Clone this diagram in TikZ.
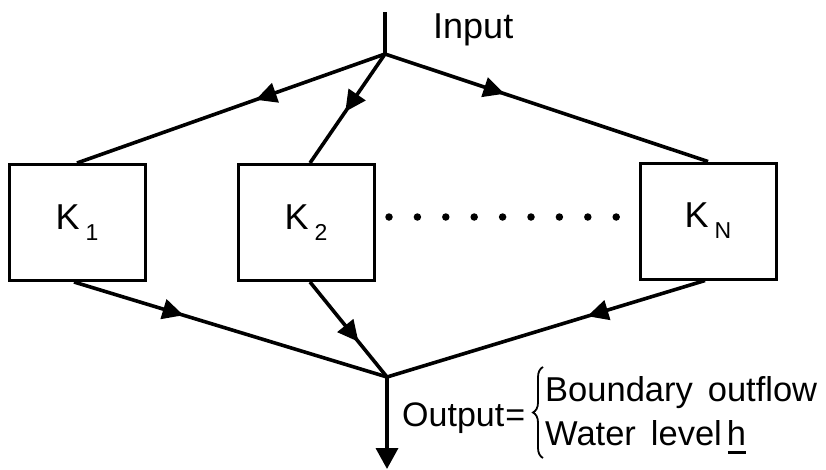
\documentclass[tikz,border=0pt]{standalone}
\usepackage{fontspec}
\setmainfont{Liberation Sans}
\usetikzlibrary{arrows.meta,decorations.markings,decorations.pathreplacing}
\newcommand{\Ksub}[1]{K\kern6pt\raisebox{-11pt}{\fontsize{23}{24}\selectfont #1}}
\tikzset{
  bigfont/.style={font=\fontsize{36}{40}\selectfont},
  midfont/.style={font=\fontsize{34.5}{40}\selectfont},
  kbox/.style={draw,line width=3pt,minimum width=136pt,minimum height=116pt,inner sep=0pt,bigfont},
  flow/.style={line width=3.6pt},
  midarrow/.style={postaction={decorate},decoration={markings,mark=at position #1 with {\arrow{Triangle[length=21pt,width=20pt]}}}},
  dotnode/.style={circle,fill,inner sep=0pt,minimum size=7.5pt},
  label/.style={inner sep=0pt,anchor=base west,midfont}
}
\begin{document}
\begin{tikzpicture}[x=1pt,y=-1pt]
\useasboundingbox (0,0) rectangle (826,469);
% boxes
\node[kbox] (k1) at (77,222.5) {\Ksub{1}};
\node[kbox] (k2) at (306,222.5) {\Ksub{2}};
\node[kbox] (kn) at (708,221) {\Ksub{N}};
% junctions
\coordinate (top) at (385,12);
\coordinate (split) at (385,54);
\coordinate (merge) at (387,377);
\coordinate (out) at (387,469);
% input
\draw[flow] (top) -- (split);
\draw[flow,midarrow=0.42] (split) -- (k1.north);
\draw[flow,midarrow=0.53] (split) -- ([xshift=4pt]k2.north);
\draw[flow,midarrow=0.37] (split) -- (kn.north);
% output
\draw[flow,midarrow=0.35] ([xshift=-3pt]k1.south) -- (merge);
\draw[flow,midarrow=0.63] ([xshift=4pt]k2.south) -- (merge);
\draw[flow,midarrow=0.37] ([xshift=-3pt]kn.south) -- (merge);
\draw[flow,-{Triangle[length=21pt,width=22pt]}] (merge) -- (out);
% dots
\foreach \i in {0,...,8} {
  \node[dotnode] (d\i) at ({389+\i*28.4},217) {};
}
% labels
\node[label,bigfont] (input) at (433,38) {Input};
\node[label,font=\fontsize{34}{40}\selectfont] (output) at (402,426) {Output\kern1pt=};
\node[label] (bo) at (545,401) {Boundary\hspace{15pt}outflow};
\node[label] (wl) at (545,445) {Water\hspace{15pt}level\kern5pt\rlap{\kern1pt\rule[-8.5pt]{18pt}{3pt}}h};
\coordinate (brb) at (543,458);
\coordinate (brt) at (543,367);
\draw[line width=1.8pt,decorate,decoration={brace,amplitude=10pt}] (brb) -- (brt);
\end{tikzpicture}
\end{document}
